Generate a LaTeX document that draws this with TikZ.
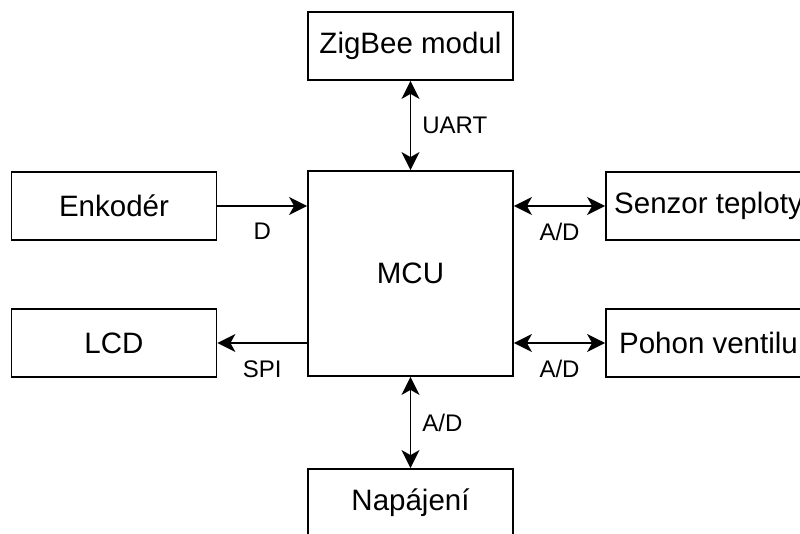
\documentclass[tikz,border=0pt]{standalone}
\usepackage{fontspec}
\setmainfont{Liberation Sans}
\usetikzlibrary{arrows.meta}

\begin{document}
\begin{tikzpicture}[x=1pt, y=-1pt, line width=1.8pt,
  block/.style={draw, inner sep=0pt, minimum width=205pt, minimum height=68pt,
    font=\fontsize{29.5}{34}\selectfont},
  onearr/.style={-{Stealth[length=18pt, width=18pt, inset=5pt]}},
  twoarr/.style={{Stealth[length=18pt, width=18pt, inset=5pt]}-{Stealth[length=18pt, width=18pt, inset=5pt]}},
  lbl/.style={inner sep=3pt, font=\fontsize{24}{28}\selectfont}]
  \path[use as bounding box, clip] (0,0) rectangle (800,534);
  % blocks
  \node[block, minimum height=205pt] (mcu) at (410.5,273.5) {MCU};
  \node[block] (zigbee)   at (410.5,46)  {ZigBee modul};
  \node[block] (enkoder)  at (114,206)   {Enkodér};
  \node[block] (lcd)      at (114,343)   {LCD};
  \node[block] (senzor)   at (708.5,206) {Senzor teploty};
  \node[block] (pohon)    at (708.5,343) {Pohon ventilu};
  \node[block] (napajeni) at (410.5,503) {Napájení};
  % connections
  \draw[twoarr] (zigbee) -- (mcu) node[lbl, midway, right=8pt] {UART};
  \draw[onearr] (enkoder.east) -- (enkoder.east -| mcu.west)
    node[lbl, midway, below=13.5pt] {D};
  \draw[onearr] (lcd.east -| mcu.west) -- (lcd.east)
    node[lbl, midway, below=13.5pt] {SPI};
  \draw[twoarr] (senzor.west -| mcu.east) -- (senzor.west)
    node[lbl, midway, below=13.5pt] {A/D};
  \draw[twoarr] (pohon.west -| mcu.east) -- (pohon.west)
    node[lbl, midway, below=13.5pt] {A/D};
  \draw[twoarr] (mcu) -- (napajeni) node[lbl, midway, right=8pt] {A/D};
\end{tikzpicture}
\end{document}
